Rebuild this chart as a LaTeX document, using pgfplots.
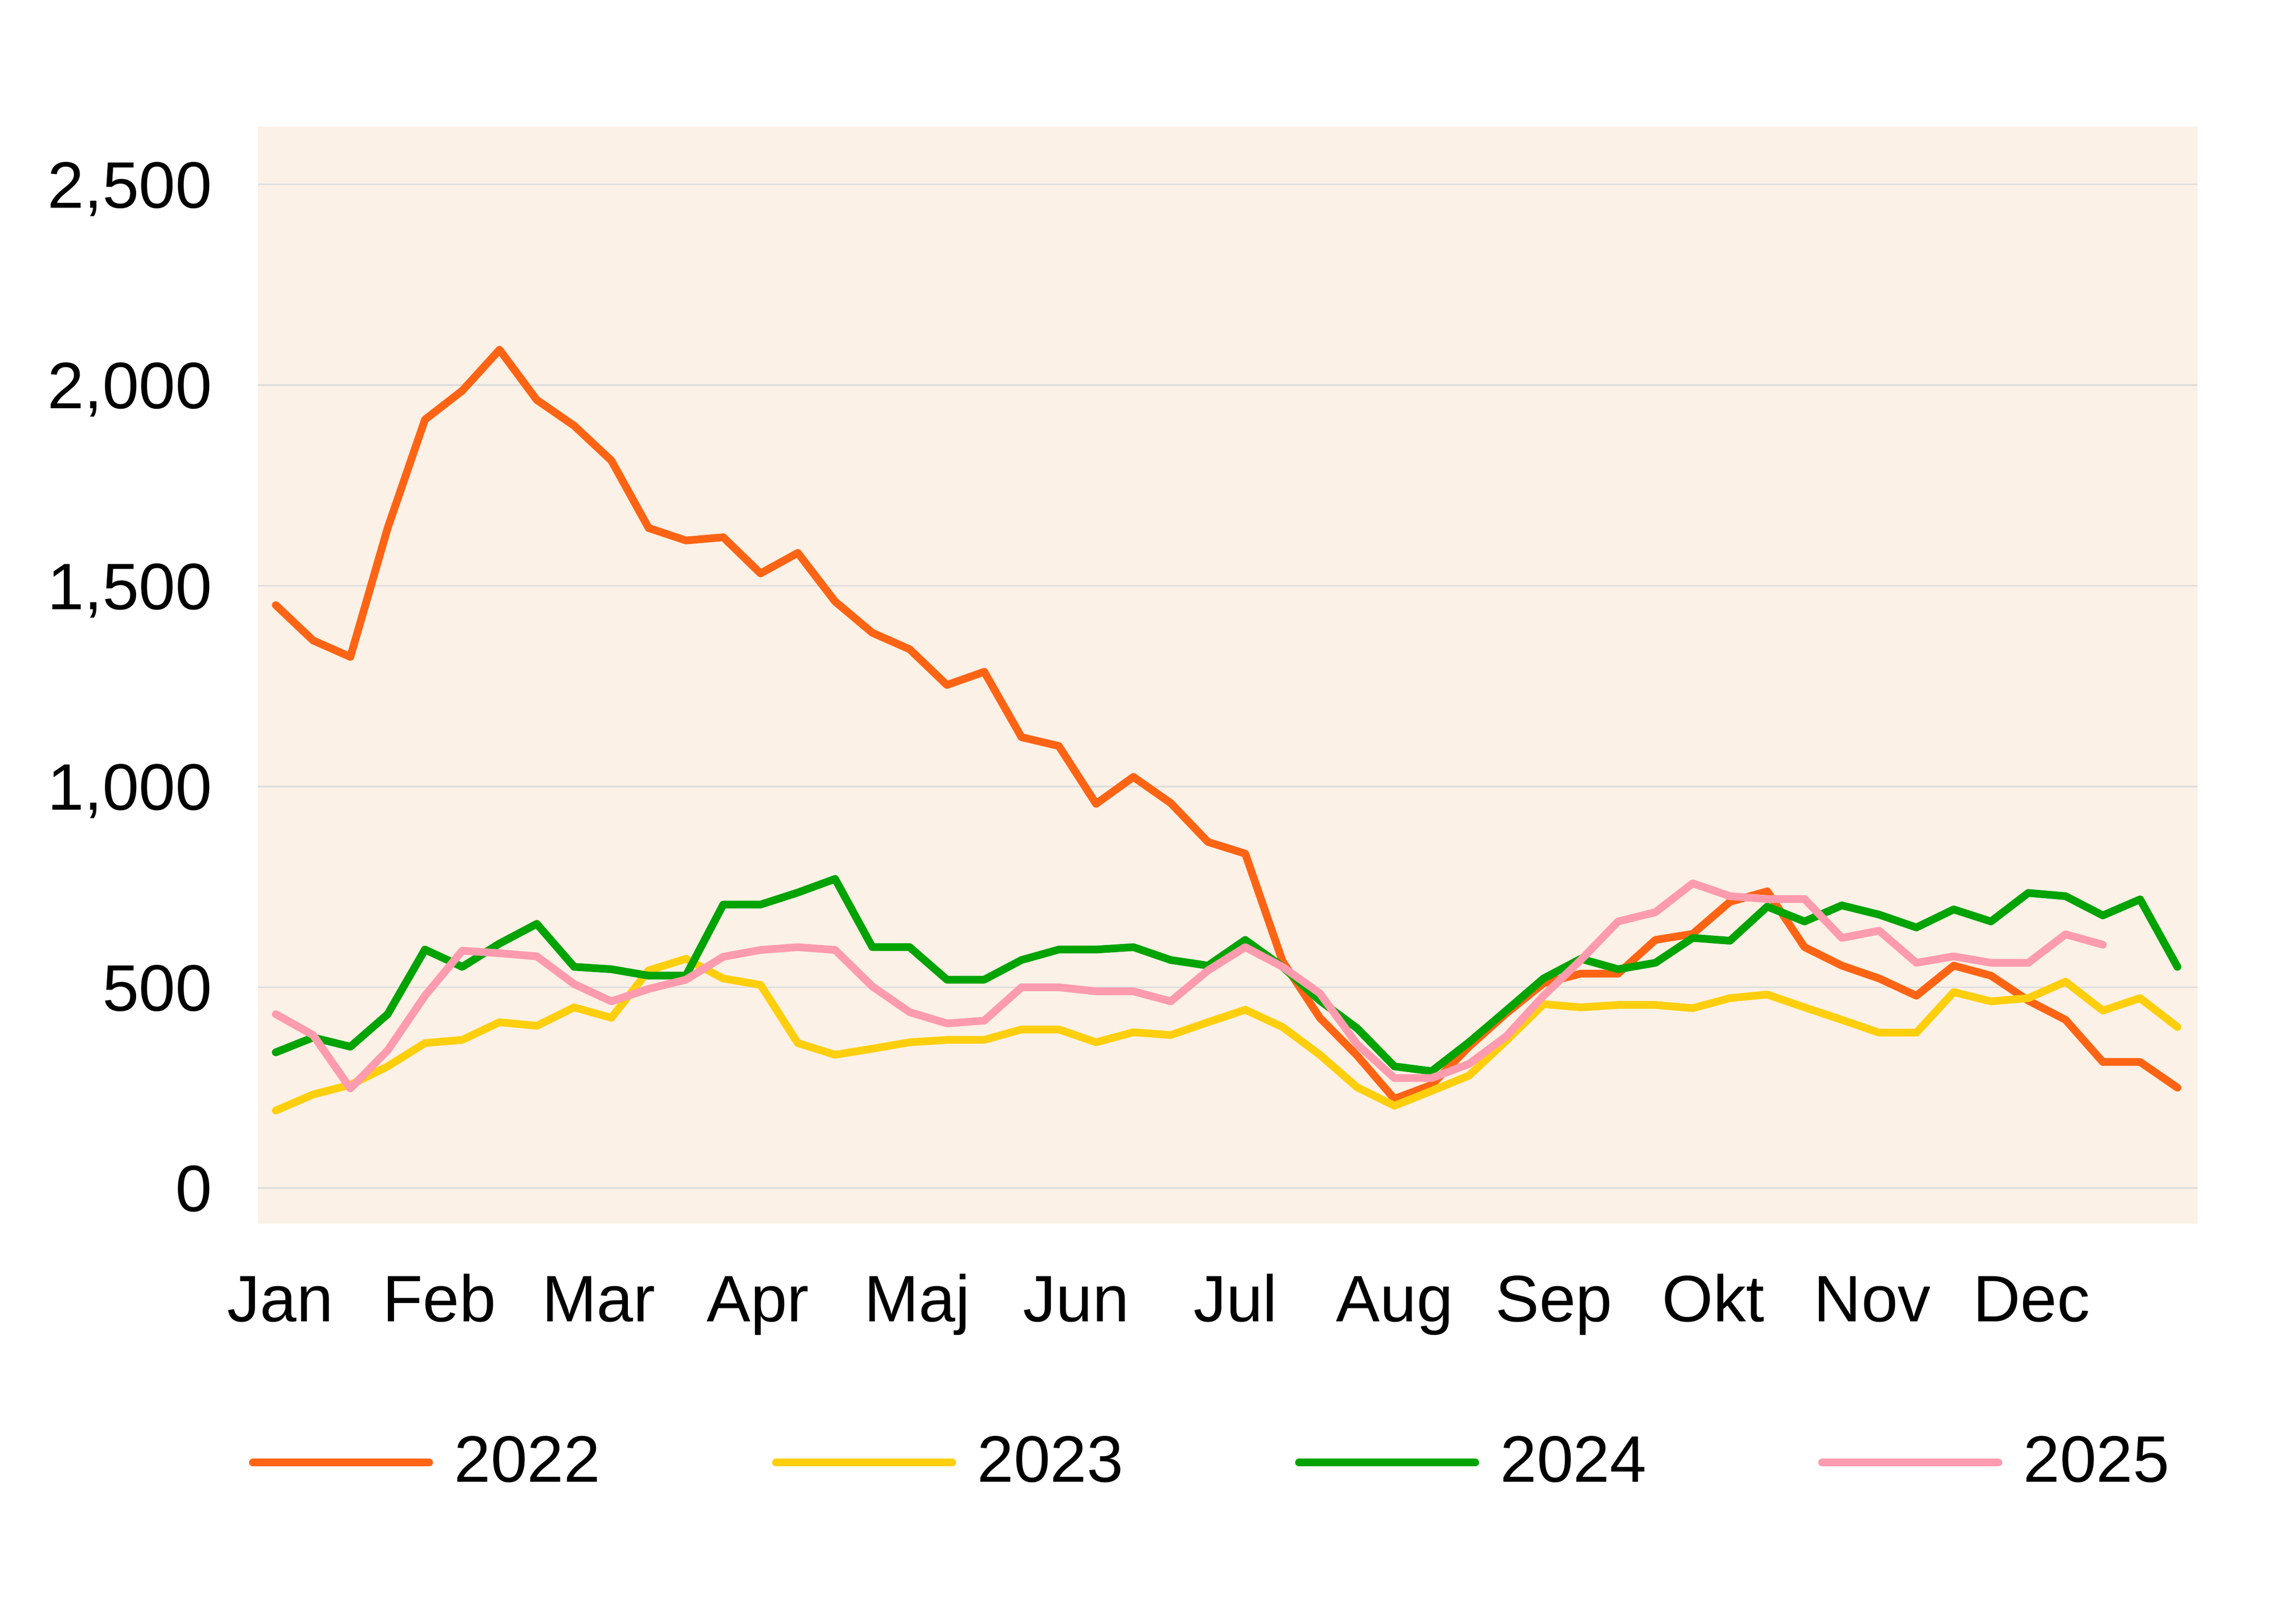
\documentclass[border=0pt]{standalone}
\usepackage{fontspec}
\setmainfont{Liberation Sans}
\usepackage{pgfplots}
\pgfplotsset{compat=1.18}
\usepackage{pgfplotstable}

\definecolor{c22}{HTML}{FF6414}
\definecolor{c23}{HTML}{FFCF0D}
\definecolor{c24}{HTML}{00A300}
\definecolor{c25}{HTML}{FF9BAE}
\definecolor{bgc}{HTML}{FBF1E6}
\definecolor{gridc}{HTML}{DEDEDE}

% weekly values, weeks 0..51
\pgfplotstableread{
w  y22  y23  y24  y25
0  1452 193  338  433
1  1364 233  375  381
2  1323 257  352  248
3  1644 303  433  343
4  1914 361  594  479
5  1986 369  551  591
6  2088 413  609  585
7  1963 404  658  577
8  1899 450  551  508
9  1812 424  545  465
10 1644 542  529  496
11 1613 571  529  519
12 1621 522  706  576
13 1531 506  706  593
14 1582 361  736  600
15 1461 332  770  593
16 1383 347  600  502
17 1342 363  600  438
18 1253 369  519  410
19 1286 369  519  417
20 1123 395  568  500
21 1101 395  594  500
22 957  363  594  490
23 1024 388  600  490
24 959  381  568  465
25 862  413  554  542
26 833  444  618  600
27 565  401  551  551
28 424  332  467  485
29 330  251  398  358
30 222  205  303  274
31 257  242  291  274
32 352  280  363  309
33 435  367  442  378
34 510  458  522  479
35 534  450  571  568
36 534  456  545  664
37 618  456  561  687
38 633  448  623  759
39 713  473  616  727
40 739  482  701  720
41 600  450  664  720
42 554  419  704  623
43 522  387  681  641
44 479  387  649  561
45 554  488  694  577
46 529  465  664  561
47 467  473  735  561
48 419  514  727  632
49 314  442  679  606
50 314  473  719  nan
51 250  401  551  nan
}\weekly

\begin{document}
\begin{tikzpicture}
\useasboundingbox (-53.4pt,-78.4pt) rectangle (422pt,253.3pt);
\begin{axis}[
  at={(0,0)}, anchor=south west,
  scale only axis, width=401.6pt, height=227.1pt,
  xmin=-0.48, xmax=51.54, ymin=-89, ymax=2644,
  axis background/.style={fill=bgc},
  axis line style={draw=none},
  major tick style={draw=none},
  ytick={0,500,1000,1500,2000,2500},
  xtick={0.12,4.39,8.66,12.93,17.20,21.47,25.74,30.01,34.28,38.55,42.82,47.09},
  xticklabels={Jan,Feb,Mar,Apr,Maj,Jun,Jul,Aug,Sep,Okt,Nov,Dec},
  ymajorgrids, grid style={draw=gridc, line width=0.35pt},
  tick label style={font=\fontsize{13.6}{16}\selectfont},
  /pgf/number format/assume math mode=true,
  /pgf/number format/1000 sep={,},
  scaled y ticks=false,
  yticklabel style={anchor=base east, inner sep=0pt, xshift=-9.3pt, yshift=-4.85pt},
  xticklabel style={anchor=base, inner sep=0pt, yshift=-20.2pt},
  every axis plot/.append style={line width=1.6pt, line join=round, line cap=round},
  legend columns=4,
  legend image code/.code={\draw[#1] (0pt,0pt) -- (36.5pt,0pt);},
  legend style={draw=none, fill=none, inner sep=0pt,
    at={(axis description cs:-0.0051,-0.2177)}, anchor=west,
    font=\fontsize{13.6}{16}\selectfont, nodes={inner sep=0pt},
    /tikz/every odd column/.append style={column sep=4.4pt},
    /tikz/every even column/.append style={column sep=35.55pt}},
]
\addplot[c22] table[x=w, y=y22] {\weekly};
\addplot[c23] table[x=w, y=y23] {\weekly};
\addplot[c24] table[x=w, y=y24] {\weekly};
\addplot[c25] table[x=w, y=y25] {\weekly};
\legend{2022, 2023, 2024, 2025}
\end{axis}
\end{tikzpicture}
\end{document}
